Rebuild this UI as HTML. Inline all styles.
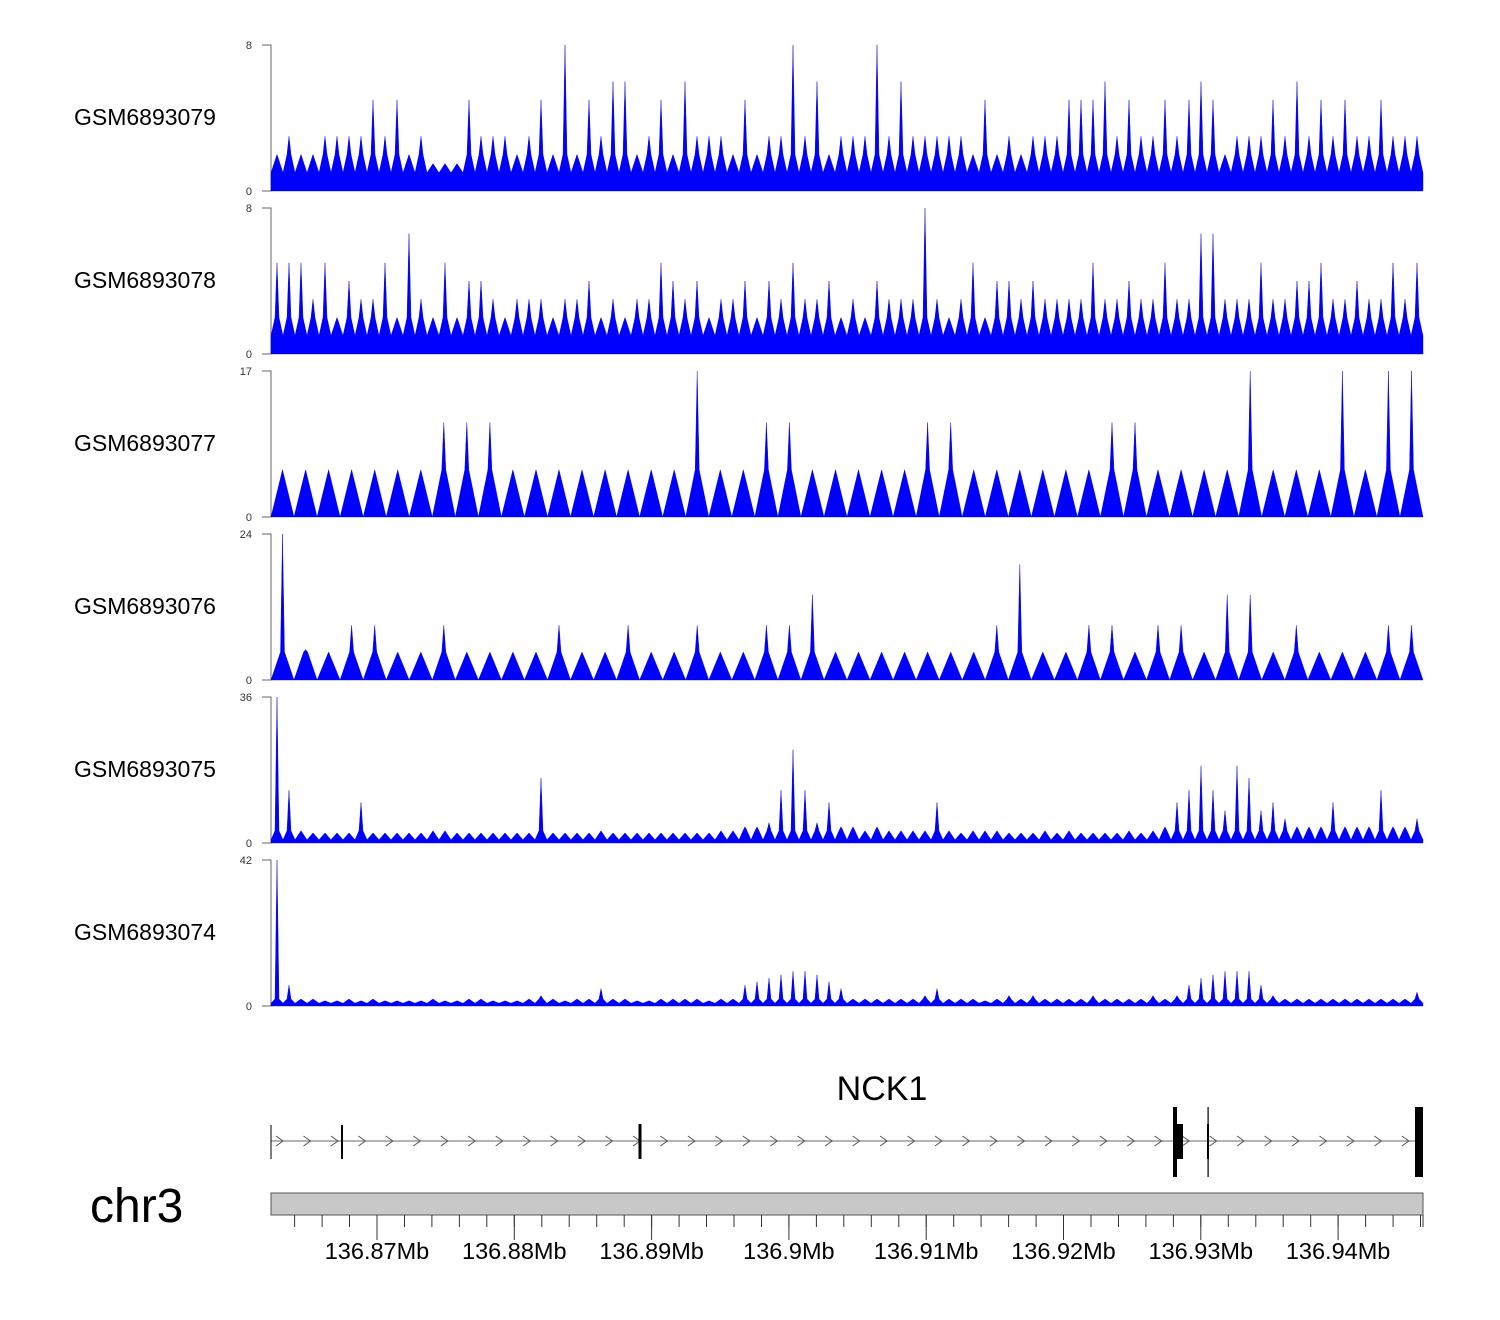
<!DOCTYPE html>
<html><head><meta charset="utf-8"><style>
html,body{margin:0;padding:0;background:#fff;}
svg{display:block;font-family:"Liberation Sans",sans-serif;}
</style></head><body>
<svg id="chart" width="1500" height="1320" viewBox="0 0 1500 1320" xmlns="http://www.w3.org/2000/svg">
<g id="tracks"></g>
<g id="gene">
  <text x="882" y="1100" font-size="34" text-anchor="middle" fill="#000">NCK1</text>
  <line x1="271" y1="1141" x2="1423" y2="1141" stroke="#888" stroke-width="1.2"/>
  <g id="chevrons"></g>
  <rect x="270.5" y="1125" width="1" height="34" fill="#000"/>
  <rect x="341" y="1125" width="2" height="34" fill="#000"/>
  <rect x="638.5" y="1124" width="3" height="35" fill="#000"/>
  <rect x="1173" y="1107" width="4" height="70" fill="#000"/>
  <rect x="1177" y="1124" width="6" height="35" fill="#000"/>
  <rect x="1207.5" y="1107" width="1.2" height="70" fill="#000"/>
  <rect x="1207" y="1124" width="2" height="35" fill="#000"/>
  <rect x="1415" y="1107" width="8" height="70" fill="#000"/>
</g>
<g id="ideogram">
  <text x="90" y="1222" font-size="48" fill="#000">chr3</text>
  <rect x="271" y="1193" width="1152" height="22" fill="#c8c8c8" stroke="#555" stroke-width="1"/>
  <g id="xticks"></g>
</g>
</svg>
<script>
// ---- data ----
const sampleNames = ["GSM6893079","GSM6893078","GSM6893077","GSM6893076","GSM6893075","GSM6893074"];
const yMax = [8, 8, 17, 24, 36, 42];
const track1 = [2,3,2,2,3,3,3,3,5,3,5,2,3,1.5,1.5,1.5,5,3,3,3,2,3,5,2,8,2,5,3,6,6,2,3,5,2,6,3,3,3,2,5,2,3,3,8,3,6,2,3,3,3,8,3,6,3,3,3,3,3,2,5,2,3,2,3,3,3,5,5,5,6,3,5,3,3,5,3,5,6,5,2,3,3,3,5,3,6,3,5,3,5,3,3,5,3,3,3];
const track2 = [5,5,5,3,5,2,4,3,3,5,2,6.6,3,2,5,2,4,4,3,2,3,3,3,2,3,3,4,2,3,2,3,3,5,4,3,4,2,3,3,4,2,4,3,5,3,3,4,2,3,2,4,3,3,3,8,3,2,3,5,2,4,4,3,4,3,3,3,3,5,3,3,4,3,3,5,3,3,6.6,6.6,3,3,3,5,3,3,4,4,5,3,3,4,3,3,5,3,5];
const track3 = [5.5,5.5,5.5,5.5,5.5,5.5,5.5,11,11,11,5.5,5.5,5.5,5.5,5.5,5.5,5.5,5.5,17,5.5,5.5,11,11,5.5,5.5,5.5,5.5,5.5,11,11,5.5,5.5,5.5,5.5,5.5,5.5,11,11,5.5,5.5,5.5,5.5,17,5.5,5.5,5.5,17,5.5,17,17];
const track4 = [24,5,4.6,9,9,4.6,4.6,9,4.6,4.6,4.6,4.6,9,4.6,4.6,9,4.6,4.6,9,4.6,4.6,9,9,14,4.6,4.6,4.6,4.6,4.6,4.6,4.6,9,19,4.6,4.6,9,9,4.6,9,9,4.6,14,14,4.6,9,4.6,4.6,4.6,9,9];
const track5 = [36,13,3,2.5,2.5,2.5,2.5,10,2.5,2.5,2.5,2.5,2.5,3,3,2.5,2.5,2.5,2.5,2.5,2.5,2.5,16,2.5,2.5,2.5,2.5,3,2.5,2.5,2.5,2.5,2.5,2.5,2.5,2.5,2.5,3,3,4,4,5,13,23,13,5,10,4,4,3,4,3,3,3,3,10,3,2.5,3,3,3,2.5,2.5,2.5,3,2.5,3,2.5,2.5,2.5,2.5,3,2.5,3,4,10,13,19,13,8,19,16,8,10,6,4,4,4,10,4,4,4,13,4,4,6];
const track6 = [42,6,2,2,1.5,1.5,2,1.5,2,1.5,1.5,1.5,1.5,2,1.5,1.5,2,2,1.5,1.5,1.5,2,3,2,1.5,2,2,5,2,2,1.5,1.5,2,2,2,2,1.5,2,2,6,7,8,9,10,10,9,7,5,2,2,2,2,2,2,3,5,2,2,2,1.5,2,3,2,3,2,2,2,2,3,2,2,2,2,3,2,3,6,8,9,10,10,10,6,3,2,2,2,2,2,2,2,2,2,2,2,4];
const tickLabels = ["136.87Mb","136.88Mb","136.89Mb","136.9Mb","136.91Mb","136.92Mb","136.93Mb","136.94Mb"];
const tickValues = [136.87,136.88,136.89,136.9,136.91,136.92,136.93,136.94];

// ---- scales ----
const X0 = 271, X1 = 1423;
const genomeStart = 136.86228, genomeEnd = 136.94618;
function xScale(mb){ return X0 + (mb - genomeStart)/(genomeEnd - genomeStart)*(X1 - X0); }
const tops = [45,208,371,534,697,860];
const H = 146;
const caps = [2,2,5.5,4.6,3,2];
const troughs = [1,1,0,0,0.8,0.8];
const allTracks = [track1,track2,track3,track4,track5,track6];
const NS = "http://www.w3.org/2000/svg";
function mk(tag, attrs, parent){ const e=document.createElementNS(NS,tag); for(const k in attrs) e.setAttribute(k,attrs[k]); parent.appendChild(e); return e; }

const tg = document.getElementById('tracks');
allTracks.forEach((vals, t) => {
  const top = tops[t], base = top + H, max = yMax[t];
  const y = v => base - Math.min(v, max)/max*H;
  const g = mk('g', {}, tg);
  
  
  const lab = mk('text', {x:74, y: top + 80, 'font-size':23, fill:'#000'}, g);
  lab.textContent = sampleNames[t];
  
  
  const ax = mk('path', {d:`M262,${top}H271V${base}H262`, fill:'none', stroke:'#666', 'stroke-width':1}, g);
  
  
  const tmax = mk('text', {x:252, y: top+4, 'font-size':11, 'text-anchor':'end', fill:'#333'}, g);
  tmax.textContent = String(max);
  
  
  const tmin = mk('text', {x:252, y: base+4, 'font-size':11, 'text-anchor':'end', fill:'#333'}, g);
  tmin.textContent = '0';
  
  
  const bw = (X1 - X0)/vals.length;
  const cap = caps[t], tr = troughs[t];
  let d = `M${X0},${base}`;
  vals.forEach((v, i) => {
    const x0 = X0 + i*bw, xc = x0 + bw/2, x1 = x0 + bw;
    const h = Math.min(v, cap);
    d += `L${x0.toFixed(1)},${y(Math.min(tr, v)).toFixed(1)}`;
    if (v > cap) {
      d += `L${(xc-2).toFixed(1)},${y(h).toFixed(1)}L${xc.toFixed(1)},${y(v).toFixed(1)}L${(xc+2).toFixed(1)},${y(h).toFixed(1)}`;
    } else {
      d += `L${xc.toFixed(1)},${y(h).toFixed(1)}`;
    }
    d += `L${x1.toFixed(1)},${y(Math.min(tr, v)).toFixed(1)}`;
  });
  d += `L${X1},${base}Z`;
  const area = mk('path', {d, fill:'#0000ff', stroke:'#0000c8', 'stroke-width':0.4}, g);
  
  
});

// chevrons
const cg = document.getElementById('chevrons');
for (let x = 276; x < 1412; x += 27.46) {
  const c = mk('path', {d:`M${x.toFixed(1)},1136L${(x+7).toFixed(1)},1141L${x.toFixed(1)},1146`, fill:'none', stroke:'#555', 'stroke-width':1}, cg);
  
  
}

// x ticks
const xg = document.getElementById('xticks');
const step = (xScale(136.88) - xScale(136.87))/5;
for (let x = xScale(136.87) - 3*step; x <= X1 + 0.5; x += step) {
  const tk = mk('line', {x1:x.toFixed(1), y1:1215, x2:x.toFixed(1), y2:1227, stroke:'#333', 'stroke-width':1}, xg);
  
  
}
mk('line', {x1:X1, y1:1215, x2:X1, y2:1227, stroke:'#333'}, xg);
tickValues.forEach((v, i) => {
  const x = xScale(v);
  const tk = mk('line', {x1:x.toFixed(1), y1:1215, x2:x.toFixed(1), y2:1240, stroke:'#333', 'stroke-width':1}, xg);
  
  
  const tl = mk('text', {x:x.toFixed(1), y:1259, 'font-size':23.5, 'text-anchor':'middle', fill:'#000'}, xg);
  tl.textContent = tickLabels[i];
  
  
});
</script>
</body></html>
